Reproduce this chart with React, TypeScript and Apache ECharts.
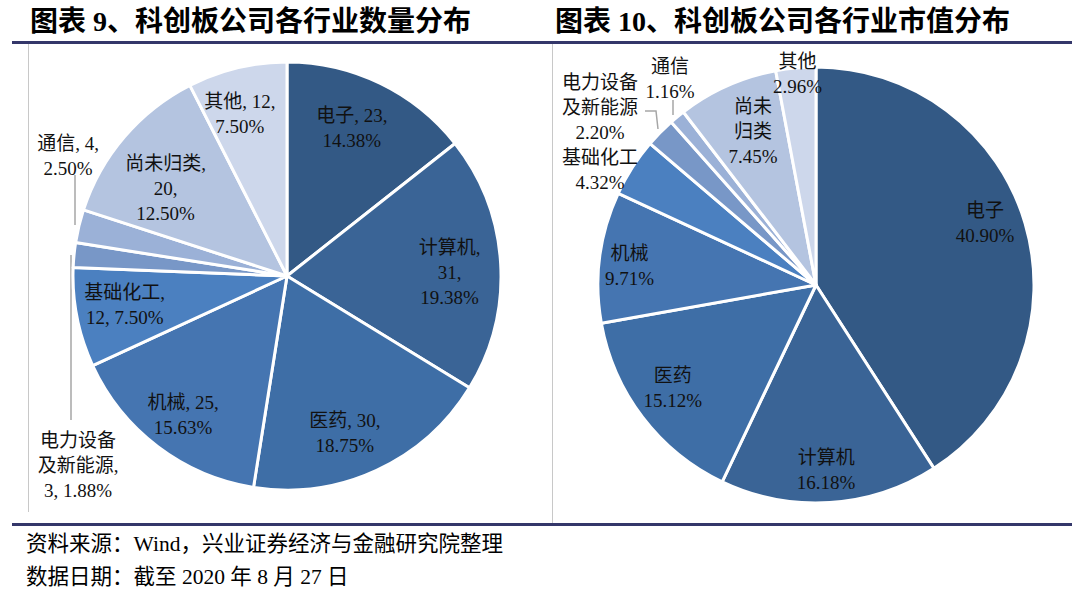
import React, { useEffect, useRef } from "react";
import * as echarts from "echarts";

// ---------- data ----------
const categories = ["电子", "计算机", "医药", "机械", "基础化工", "电力设备及新能源", "通信", "尚未归类", "其他"];
const countValues = [23, 31, 30, 25, 12, 3, 4, 20, 12];
const capShareValues = [40.9, 16.18, 15.12, 9.71, 4.32, 2.2, 1.16, 7.45, 2.96];

const leftTitle = "图表 9、科创板公司各行业数量分布";
const rightTitle = "图表 10、科创板公司各行业市值分布";
const sourceNote = "资料来源：Wind，兴业证券经济与金融研究院整理";
const dateNote = "数据日期：截至 2020 年 8 月 27 日";

// ---------- styles ----------
const sliceColors = ["#335985", "#3a6496", "#3e6ea6", "#4575b1", "#4b80c0", "#7897c7", "#9bb1d7", "#b4c4e0", "#cdd7eb"];
const FONT = "'Liberation Serif', 'Noto Sans CJK SC', serif";

// label line breaks (left chart): separator after name, separator after value
const leftSep1 = [" ", "\n", " ", " ", "\n", "\n", " ", "\n", " "];
const leftSep2 = ["\n", "\n", "\n", "\n", " ", " ", "\n", "\n", "\n"];
const leftNameBreak = [0, 0, 0, 0, 0, 4, 0, 0, 0];
const rightNameBreak = [0, 0, 0, 0, 0, 4, 0, 2, 0];

type Place = { f?: number; da?: number; dx?: number; dy?: number; line?: number[][] };

const LEFT_C = [287, 276];
const LEFT_R = 214;
const RIGHT_C = [816, 285];
const RIGHT_R = 218;

const leftPlace: Place[] = [
  { f: 0.755, da: -2.2 },
  { f: 0.76, da: 2 },
  { f: 0.78, da: 4.5 },
  { f: 0.81, da: -0.3 },
  { f: 0.77, da: 1.2 },
  { dx: -209, dy: 189, line: [[-216, -21], [-216, 60], [-216, 144]] },
  { dx: -219, dy: -120, line: [[-212, -51], [-212, -75], [-212, -101]] },
  { f: 0.7, da: -4.7 },
  { f: 0.79, da: -2.7 },
];

const rightPlace: Place[] = [
  { f: 0.826, da: -3.7 },
  { f: 0.85, da: 0.5 },
  { f: 0.81, da: 1.5 },
  { f: 0.86, da: -1.6 },
  { dx: -216, dy: -115 },
  { dx: -216, dy: -178, line: [[-158, -156], [-160, -174], [-171, -174]] },
  { dx: -146, dy: -206, line: [[-143, -170], [-143, -178], [-143, -185]] },
  { f: 0.76, da: 1.7 },
  { f: 0.97, da: 0.3 },
];

function splitName(name: string, at: number) {
  return at > 0 ? name.slice(0, at) + "\n" + name.slice(at) : name;
}

function makeLayout(values: number[], c: number[], R: number, place: Place[]) {
  const total = values.reduce((a, b) => a + b, 0);
  const mids: number[] = [];
  let acc = 0;
  values.forEach((v) => {
    mids.push(((acc + v / 2) / total) * 360);
    acc += v;
  });
  return (params: any) => {
    const i = params.dataIndex;
    const p = place[i];
    let x: number;
    let y: number;
    if (p.f != null) {
      const a = ((mids[i] + (p.da || 0)) * Math.PI) / 180;
      x = c[0] + p.f * R * Math.sin(a);
      y = c[1] - p.f * R * Math.cos(a);
    } else {
      x = c[0] + (p.dx || 0);
      y = c[1] + (p.dy || 0);
    }
    const res: any = { x, y, align: "center", verticalAlign: "middle" };
    if (p.line) res.labelLinePoints = p.line.map(([dx, dy]) => [c[0] + dx, c[1] + dy]);
    return res;
  };
}

function buildData(values: number[], place: Place[]) {
  return categories.map((name, i) => {
    const item: any = { name, value: values[i], itemStyle: { color: sliceColors[i] } };
    if (place[i].f == null) {
      item.label = { position: "outside" };
      item.labelLine = { show: !!place[i].line };
    }
    return item;
  });
}

const labelBase = {
  show: true,
  position: "inside",
  color: "#111",
  fontSize: 19,
  lineHeight: 25,
  fontFamily: FONT,
  textBorderWidth: 0,
};

export default function App() {
  const ref = useRef<HTMLDivElement>(null);
  useEffect(() => {
    if (!ref.current) return;
    const chart = echarts.init(ref.current, undefined, { renderer: "svg" });
    const countTotal = countValues.reduce((a, b) => a + b, 0);
    chart.setOption({
      animation: false,
      backgroundColor: "#ffffff",
      graphic: [
        { type: "text", left: 30, top: 7, style: { text: leftTitle, fontSize: 28, fontWeight: "bold", fontFamily: FONT, fill: "#000" } },
        { type: "text", left: 555, top: 7, style: { text: rightTitle, fontSize: 28, fontWeight: "bold", fontFamily: FONT, fill: "#000" } },
        { type: "rect", shape: { x: 12, y: 41, width: 1060, height: 3 }, style: { fill: "#34376a" } },
        { type: "rect", shape: { x: 12, y: 523, width: 1060, height: 3 }, style: { fill: "#34376a" } },
        { type: "line", shape: { x1: 28.5, y1: 44, x2: 28.5, y2: 512 }, style: { stroke: "#c8c8c8", lineWidth: 1 } },
        { type: "line", shape: { x1: 552.5, y1: 44, x2: 552.5, y2: 523 }, style: { stroke: "#c8c8c8", lineWidth: 1 } },
        { type: "text", left: 26, top: 533, style: { text: sourceNote, fontSize: 21.5, fontFamily: FONT, fill: "#000" } },
        { type: "text", left: 26, top: 566, style: { text: dateNote, fontSize: 21.5, fontFamily: FONT, fill: "#000" } },
      ],
      series: [
        {
          type: "pie",
          center: LEFT_C,
          radius: [0, LEFT_R],
          startAngle: 90,
          clockwise: true,
          avoidLabelOverlap: false,
          itemStyle: { borderColor: "#fff", borderWidth: 3 },
          label: {
            ...labelBase,
            formatter: (p: any) => {
              const i = p.dataIndex;
              const pct = ((p.value * 100) / countTotal).toFixed(2) + "%";
              return splitName(p.name, leftNameBreak[i]) + "," + leftSep1[i] + p.value + "," + leftSep2[i] + pct;
            },
          },
          labelLine: { show: false, lineStyle: { color: "#a6a6a6", width: 1.5 }, length: 10, length2: 10 },
          emphasis: { disabled: true },
          labelLayout: makeLayout(countValues, LEFT_C, LEFT_R, leftPlace),
          data: buildData(countValues, leftPlace),
        },
        {
          type: "pie",
          center: RIGHT_C,
          radius: [0, RIGHT_R],
          startAngle: 90,
          clockwise: true,
          avoidLabelOverlap: false,
          itemStyle: { borderColor: "#fff", borderWidth: 3 },
          label: {
            ...labelBase,
            formatter: (p: any) => {
              const i = p.dataIndex;
              return splitName(p.name, rightNameBreak[i]) + "\n" + Number(p.value).toFixed(2) + "%";
            },
          },
          labelLine: { show: false, lineStyle: { color: "#a6a6a6", width: 1.5 }, length: 10, length2: 10 },
          emphasis: { disabled: true },
          labelLayout: makeLayout(capShareValues, RIGHT_C, RIGHT_R, rightPlace),
          data: buildData(capShareValues, rightPlace),
        },
      ],
    });
    return () => chart.dispose();
  }, []);
  return <div ref={ref} style={{ position: "fixed", left: 0, top: 0, width: 1080, height: 597 }} />;
}
